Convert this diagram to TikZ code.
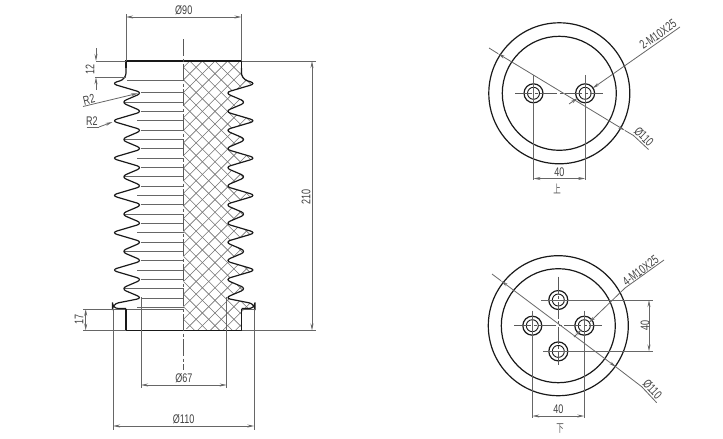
\documentclass[tikz,border=0pt]{standalone}
\usepackage{fontspec}
\setmainfont[FakeStretch=0.72]{Liberation Sans}
\newfontfamily\cjk[FakeStretch=0.65]{Noto Sans CJK SC}
\usetikzlibrary{arrows.meta, positioning}
\def\finpitch{37.3}
% one side of the fins, #1 is the side (-1 left, 1 right)
\def\fins#1{
    \foreach \k in {0,...,5} {
        -- ({183.7+#1*72.5},{83.5+\finpitch*\k})
        -- ({183.7+#1*41},{92.8+\finpitch*\k})
        -- ({183.7+#1*63},{102.2+\finpitch*\k})
        -- ({183.7+#1*41},{111.5+\finpitch*\k})
    }
}

\begin{document}
\begin{tikzpicture}[x=1pt,y=-1pt,>={Stealth[length=7pt,width=3pt]}]
    \tikzstyle{outline}=[draw=black!90,line width=1.2pt]
    \tikzstyle{thinline}=[draw=black!60,line width=0.8pt]
    \tikzstyle{hatchline}=[draw=black!55,line width=0.6pt]
    \tikzstyle{axisline}=[draw=black!65,line width=0.8pt,dash pattern=on 17pt off 2.5pt on 3pt off 2.5pt]
    \tikzstyle{dim}=[text=black!75,font=\fontsize{12.5}{13}\selectfont,inner sep=0pt]
    \useasboundingbox (0,0) rectangle (723,439);

    % Hatched half of the section
    \begin{scope}
        \clip[rounded corners=6pt] (183.7,61) -- (241.5,61) -- (241.5,78) \fins{1}
            -- (255,304) -- (255,309) -- (241.5,309) -- (241.5,330) -- (183.7,330) -- cycle;
        \foreach \d in {0,...,60} {
            \draw[hatchline] ({-100+12.6*\d},61) -- ++(300,300);
            \draw[hatchline] ({-100+12.6*\d},61) -- ++(-300,300);
        }
    \end{scope}

    % Horizontal lines of the fins on the left half
    \foreach \k in {1,...,24} {
        \pgfmathtruncatemacro{\phase}{mod(\k,4)}
        \ifnum\phase=2 \def\xstart{124}\else\ifnum\phase=0 \def\xstart{137}\else\def\xstart{141}\fi\fi
        \draw[thinline] (\xstart,{83.5+9.33*\k}) -- (183.7,{83.5+9.33*\k});
    }
    \draw[thinline] (127,80) -- (183.7,80);
    \draw[thinline] (113,309) -- (183.7,309);
    \draw[thinline] (241.5,309) -- (254.7,309);

    % Outline of the body
    \draw[outline] (241.5,61) -- (126,61) -- (126,68);
    \draw[outline,rounded corners=6pt] (126,68) -- (126,79) \fins{-1}
        -- (112.4,304) -- (112.4,308.5) -- (126,308.5);
    \draw[outline] (126,308.5) -- (126,330.5) -- (241.5,330.5) -- (241.5,309);
    \draw[outline] (241.5,68) -- (241.5,61);
    \draw[outline,rounded corners=6pt] (241.5,68) -- (241.5,79) \fins{1}
        -- (255,304) -- (255,308.5) -- (241.5,308.5);

    % Center axis
    \coordinate (axis-t) at (183.7,39);
    \coordinate (axis-b) at (183.7,370);
    \draw[axisline] (axis-t) -- (axis-b);

    % Dimensions of the front view
    \coordinate (d90-l) at (126,17);
    \coordinate (d90-r) at (241.5,17);
    \draw[thinline] (126,14) -- (126,61) (241.5,14) -- (241.5,61);
    \draw[thinline,<->] (d90-l) -- node[dim,above=2pt] (t90) {Ø90} (d90-r);

    \draw[thinline] (96,61) -- (126,61) (241.5,61) -- (316,61);
    \draw[thinline] (95,77.3) -- (126,77.3);
    \draw[thinline,<-] (96,61) -- (96,48);
    \draw[thinline,<-] (96,77.3) -- (96,90);
    \node[dim,rotate=90] (t12) at (90,69) {12};

    \coordinate (d210-t) at (312,61);
    \coordinate (d210-b) at (312,330.5);
    \draw[thinline,<->] (d210-t) -- (d210-b);
    \node[dim,rotate=90] (t210) at (306,197) {210};
    \draw[thinline] (83,330.5) -- (126,330.5) (241.5,330.5) -- (316,330.5);

    \draw[thinline] (83,309) -- (113,309);
    \draw[thinline,<->] (85.7,309) -- (85.7,330.5);
    \node[dim,rotate=90] (t17) at (79,319.5) {17};

    \node[dim,rotate=14] (r2a) at (89,99.5) {R2};
    \draw[thinline,->] (83,106.5) -- (138,93.3);
    \node[dim] (r2b) at (92,121) {R2};
    \draw[thinline] (86.5,127) -- (99,127);
    \draw[thinline,->] (99,127) -- (112.5,122);

    \draw[thinline] (141,297) -- (141,388) (226.7,297) -- (226.7,388);
    \coordinate (d67-l) at (141,385);
    \coordinate (d67-r) at (226.7,385);
    \draw[thinline,<->] (d67-l) -- node[dim,above=1.5pt] (t67) {Ø67} (d67-r);

    \draw[thinline] (113,309) -- (113,430) (254.3,309) -- (254.3,430);
    \coordinate (d110-l) at (113,426);
    \coordinate (d110-r) at (254.3,426);
    \draw[thinline,<->] (d110-l) -- node[dim,above=1.5pt] (t110) {Ø110} (d110-r);

    % Upper view
    \begin{scope}[shift={(559.3,93.3)}]
        \node[outline,circle,minimum size=141pt,inner sep=0pt] (upper-o) at (0,0) {};
        \node[outline,circle,minimum size=114pt,inner sep=0pt] (upper-i) at (0,0) {};
        \foreach \name / \x in {1/-25.8,2/25.8} {
            \node[outline,circle,minimum size=19pt,inner sep=0pt] (upper-h\name) at (\x,0) {};
            \node[outline,circle,minimum size=12pt,inner sep=0pt,line width=0.9pt] at (\x,0) {};
            \draw[thinline] (\x,-18.5) -- (\x,87);
        }
        \draw[axisline] (-44,0) -- (44,0);
    \end{scope}
    \draw[thinline,<->] (upper-h1.center |- 0,178.5) -- node[dim,above=1.5pt] (u40) {40} (upper-h2.center |- 0,178.5);
    \node[dim,text=black!65,font=\cjk\fontsize{11.5}{12}\selectfont] (u-name) at (557,188.5) {上};
    \draw[thinline] (489,48) -- (498,53.6);
    \draw[thinline,<->] (498,53.6) -- (625,130.5);
    \draw[thinline] (625,130.5) -- (633.5,135.5) -- (648.5,149.5);
    \node[dim,rotate=-45] (u110) at (644,136.5) {Ø110};
    \draw[thinline,->] (643,53) -- (592.5,88.3);
    \draw[thinline,->] (569,104) -- (577.8,98);
    \draw[thinline] (643,53) -- (680,27);
    \node[dim,rotate=35] (u-m10) at (658,34.5) {2-M10X25};

    % Lower view
    \begin{scope}[shift={(558.3,325.7)}]
        \node[outline,circle,minimum size=140pt,inner sep=0pt] (lower-o) at (0,0) {};
        \node[outline,circle,minimum size=114pt,inner sep=0pt] (lower-i) at (0,0) {};
        \foreach \name / \x / \y in {1/-26/0,2/26/0,3/0/-25.7,4/0/25.7} {
            \node[outline,circle,minimum size=19pt,inner sep=0pt] (lower-h\name) at (\x,\y) {};
            \node[outline,circle,minimum size=12pt,inner sep=0pt,line width=0.9pt] at (\x,\y) {};
        }
        \draw[axisline] (-44,0) -- (44,0);
        \draw[axisline] (0,-49) -- (0,39.5);
        \draw[thinline] (-26,-15) -- (-26,92) (26,-15) -- (26,92);
        \draw[thinline] (-17,-25.7) -- (94.5,-25.7) (-15,25.7) -- (94.5,25.7);
    \end{scope}
    \draw[thinline,<->] (649,300) -- (649,351.4);
    \node[dim,rotate=90] (l40b) at (645,325.7) {40};
    \draw[thinline,<->] (532.3,416) -- node[dim,above=1.5pt] (l40a) {40} (584.3,416);
    \node[dim,text=black!65,font=\cjk\fontsize{11.5}{12}\selectfont] (l-name) at (560,428.5) {下};
    \draw[thinline] (492,274) -- (501,280.8);
    \draw[thinline,<->] (501,280.8) -- (616,367);
    \draw[thinline] (616,367) -- (641.7,386.7) -- (656.7,402.7);
    \node[dim,rotate=-47] (l110) at (652.5,389.5) {Ø110};
    \draw[thinline,->] (625,288) -- (589,322.7);
    \draw[thinline] (625,288) -- (664,260);
    \draw[thinline,->] (574,337) -- (581.7,329.5);
    \node[dim,rotate=37] (l-m10) at (640.5,270.5) {4-M10X25};
\end{tikzpicture}
\end{document}
